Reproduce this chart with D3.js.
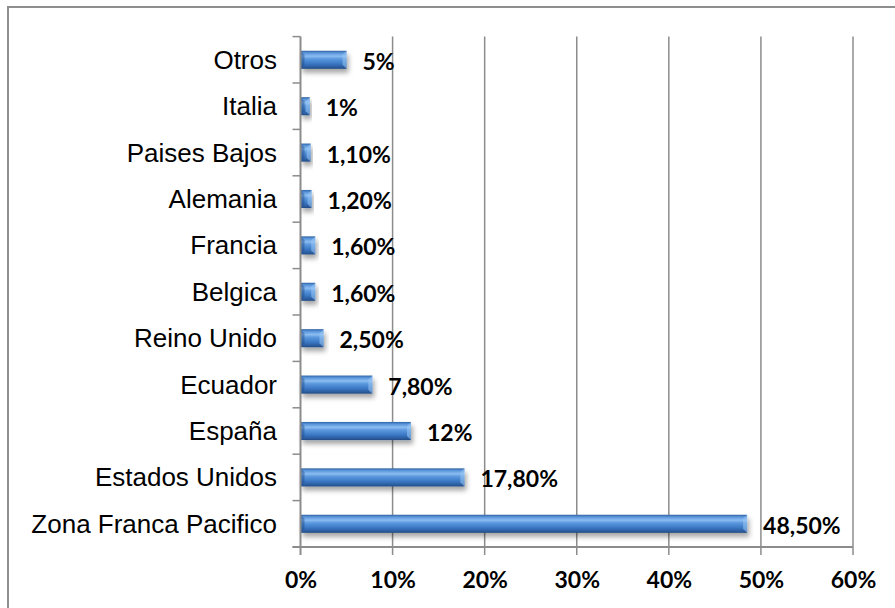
<!DOCTYPE html>
<html>
<head>
<meta charset="utf-8">
<script src="https://cdn.jsdelivr.net/npm/d3@7"></script>
<style>
  html, body { margin: 0; padding: 0; background: #fff; }
  svg { display: block; }
</style>
</head>
<body>
<svg id="chart" width="895" height="608"></svg>
<script>
const categories = ["Zona Franca Pacifico","Estados Unidos","España","Ecuador","Reino Unido","Belgica","Francia","Alemania","Paises Bajos","Italia","Otros"];
const values = [48.5, 17.8, 12, 7.8, 2.5, 1.6, 1.6, 1.2, 1.1, 1, 5];
const valueLabels = ["48,50%","17,80%","12%","7,80%","2,50%","1,60%","1,60%","1,20%","1,10%","1%","5%"];
const xTicks = [0, 10, 20, 30, 40, 50, 60];

const svg = d3.select("#chart");
const pLeft = 300.5, pRight = 853, pTop = 36.6, pBottom = 547;

const x = d3.scaleLinear().domain([0, 60]).range([pLeft, pRight]);
const y = d3.scaleBand().domain(categories.slice().reverse()).range([pTop, pBottom]).paddingInner(0.61).paddingOuter(0.305);

const defs = svg.append("defs");
const g = defs.append("linearGradient").attr("id", "barGrad").attr("x1", 0).attr("y1", 0).attr("x2", 0).attr("y2", 1);
[[0, "#2f62a4"], [0.12, "#5a95da"], [0.3, "#8bbdf1"], [0.45, "#5b98de"], [0.7, "#3d7ac6"], [0.88, "#2d60a4"], [1, "#234b83"]]
  .forEach(([o, c]) => g.append("stop").attr("offset", o).attr("stop-color", c));
const f = defs.append("filter").attr("id", "shadow").attr("x", "-10%").attr("y", "-50%").attr("width", "130%").attr("height", "250%");
f.append("feDropShadow").attr("dx", 2).attr("dy", 4).attr("stdDeviation", 2.5).attr("flood-color", "#000").attr("flood-opacity", 0.35);

// outer border
svg.append("rect").attr("x", 8).attr("y", 7).attr("width", 900).attr("height", 620)
  .attr("fill", "none").attr("stroke", "#8e8e8e").attr("stroke-width", 2);

// gridlines
svg.append("g").selectAll("line").data(xTicks.slice(1)).join("line")
  .attr("x1", d => x(d)).attr("x2", d => x(d)).attr("y1", pTop).attr("y2", pBottom + 8)
  .attr("stroke", "#8c8c8c").attr("stroke-width", 1.5);

// bars
const bars = svg.append("g");
bars.selectAll("rect").data(categories).join("rect")
  .attr("x", x(0))
  .attr("y", d => y(d))
  .attr("width", (d, i) => x(values[i]) - x(0))
  .attr("height", y.bandwidth())
  .attr("fill", "url(#barGrad)")
  .attr("filter", "url(#shadow)");
// end bevels
bars.selectAll("path.bevel").data(categories).join("path").attr("class", "bevel")
  .attr("d", (d, i) => {
    const x1 = x(values[i]), y0 = y(d), h = y.bandwidth();
    const b = Math.min(4, (x1 - x(0)) / 2);
    return `M${x1},${y0}L${x1 - b},${y0 + b}L${x1 - b},${y0 + h - b}L${x1},${y0 + h}Z`;
  })
  .attr("fill", "#9cc8f4").attr("opacity", 0.55);
bars.selectAll("path.bevelL").data(categories).join("path").attr("class", "bevelL")
  .attr("d", (d, i) => {
    const x0 = x(0), y0 = y(d), h = y.bandwidth();
    const b = Math.min(4, (x(values[i]) - x0) / 2);
    return `M${x0},${y0}L${x0 + b},${y0 + b}L${x0 + b},${y0 + h - b}L${x0},${y0 + h}Z`;
  })
  .attr("fill", "#1f4a85").attr("opacity", 0.45);

// y axis
svg.append("line").attr("x1", pLeft).attr("x2", pLeft).attr("y1", pTop).attr("y2", pBottom + 8)
  .attr("stroke", "#8c8c8c").attr("stroke-width", 2);
const boundaries = d3.range(categories.length + 1).map(i => pTop + i * (pBottom - pTop) / categories.length);
svg.append("g").selectAll("line").data(boundaries).join("line")
  .attr("x1", pLeft - 8).attr("x2", pLeft).attr("y1", d => d).attr("y2", d => d)
  .attr("stroke", "#8c8c8c").attr("stroke-width", 1.5);
// x axis
svg.append("line").attr("x1", pLeft - 8).attr("x2", pRight).attr("y1", pBottom).attr("y2", pBottom)
  .attr("stroke", "#8c8c8c").attr("stroke-width", 2);

// category labels
svg.append("g").selectAll("text").data(categories).join("text")
  .attr("x", 277).attr("y", d => y(d) + y.bandwidth() / 2)
  .attr("text-anchor", "end").attr("dominant-baseline", "central")
  .attr("font-family", "'Liberation Sans', Arial, sans-serif").attr("font-size", 26)
  .attr("fill", "#000").text(d => d);

// value labels
svg.append("g").selectAll("text").data(categories).join("text")
  .attr("x", (d, i) => x(values[i]) + 16).attr("y", d => y(d) + y.bandwidth() / 2 + 1)
  .attr("dominant-baseline", "central")
  .attr("font-family", "Lato, 'Open Sans', sans-serif").attr("font-weight", "bold").attr("font-size", 23)
  .attr("fill", "#000").text((d, i) => valueLabels[i]);

// x tick labels
const xAxis = d3.axisBottom(x).tickValues(xTicks).tickFormat(d => d + "%").tickSize(0).tickPadding(0);
const xa = svg.append("g").attr("transform", `translate(0,${pBottom})`).call(xAxis);
xa.select(".domain").remove();
xa.selectAll("text").attr("y", 33).attr("dy", "0.35em")
  .attr("font-family", "Lato, 'Open Sans', sans-serif").attr("font-weight", "bold").attr("font-size", 23).attr("fill", "#000");
</script>
</body>
</html>
